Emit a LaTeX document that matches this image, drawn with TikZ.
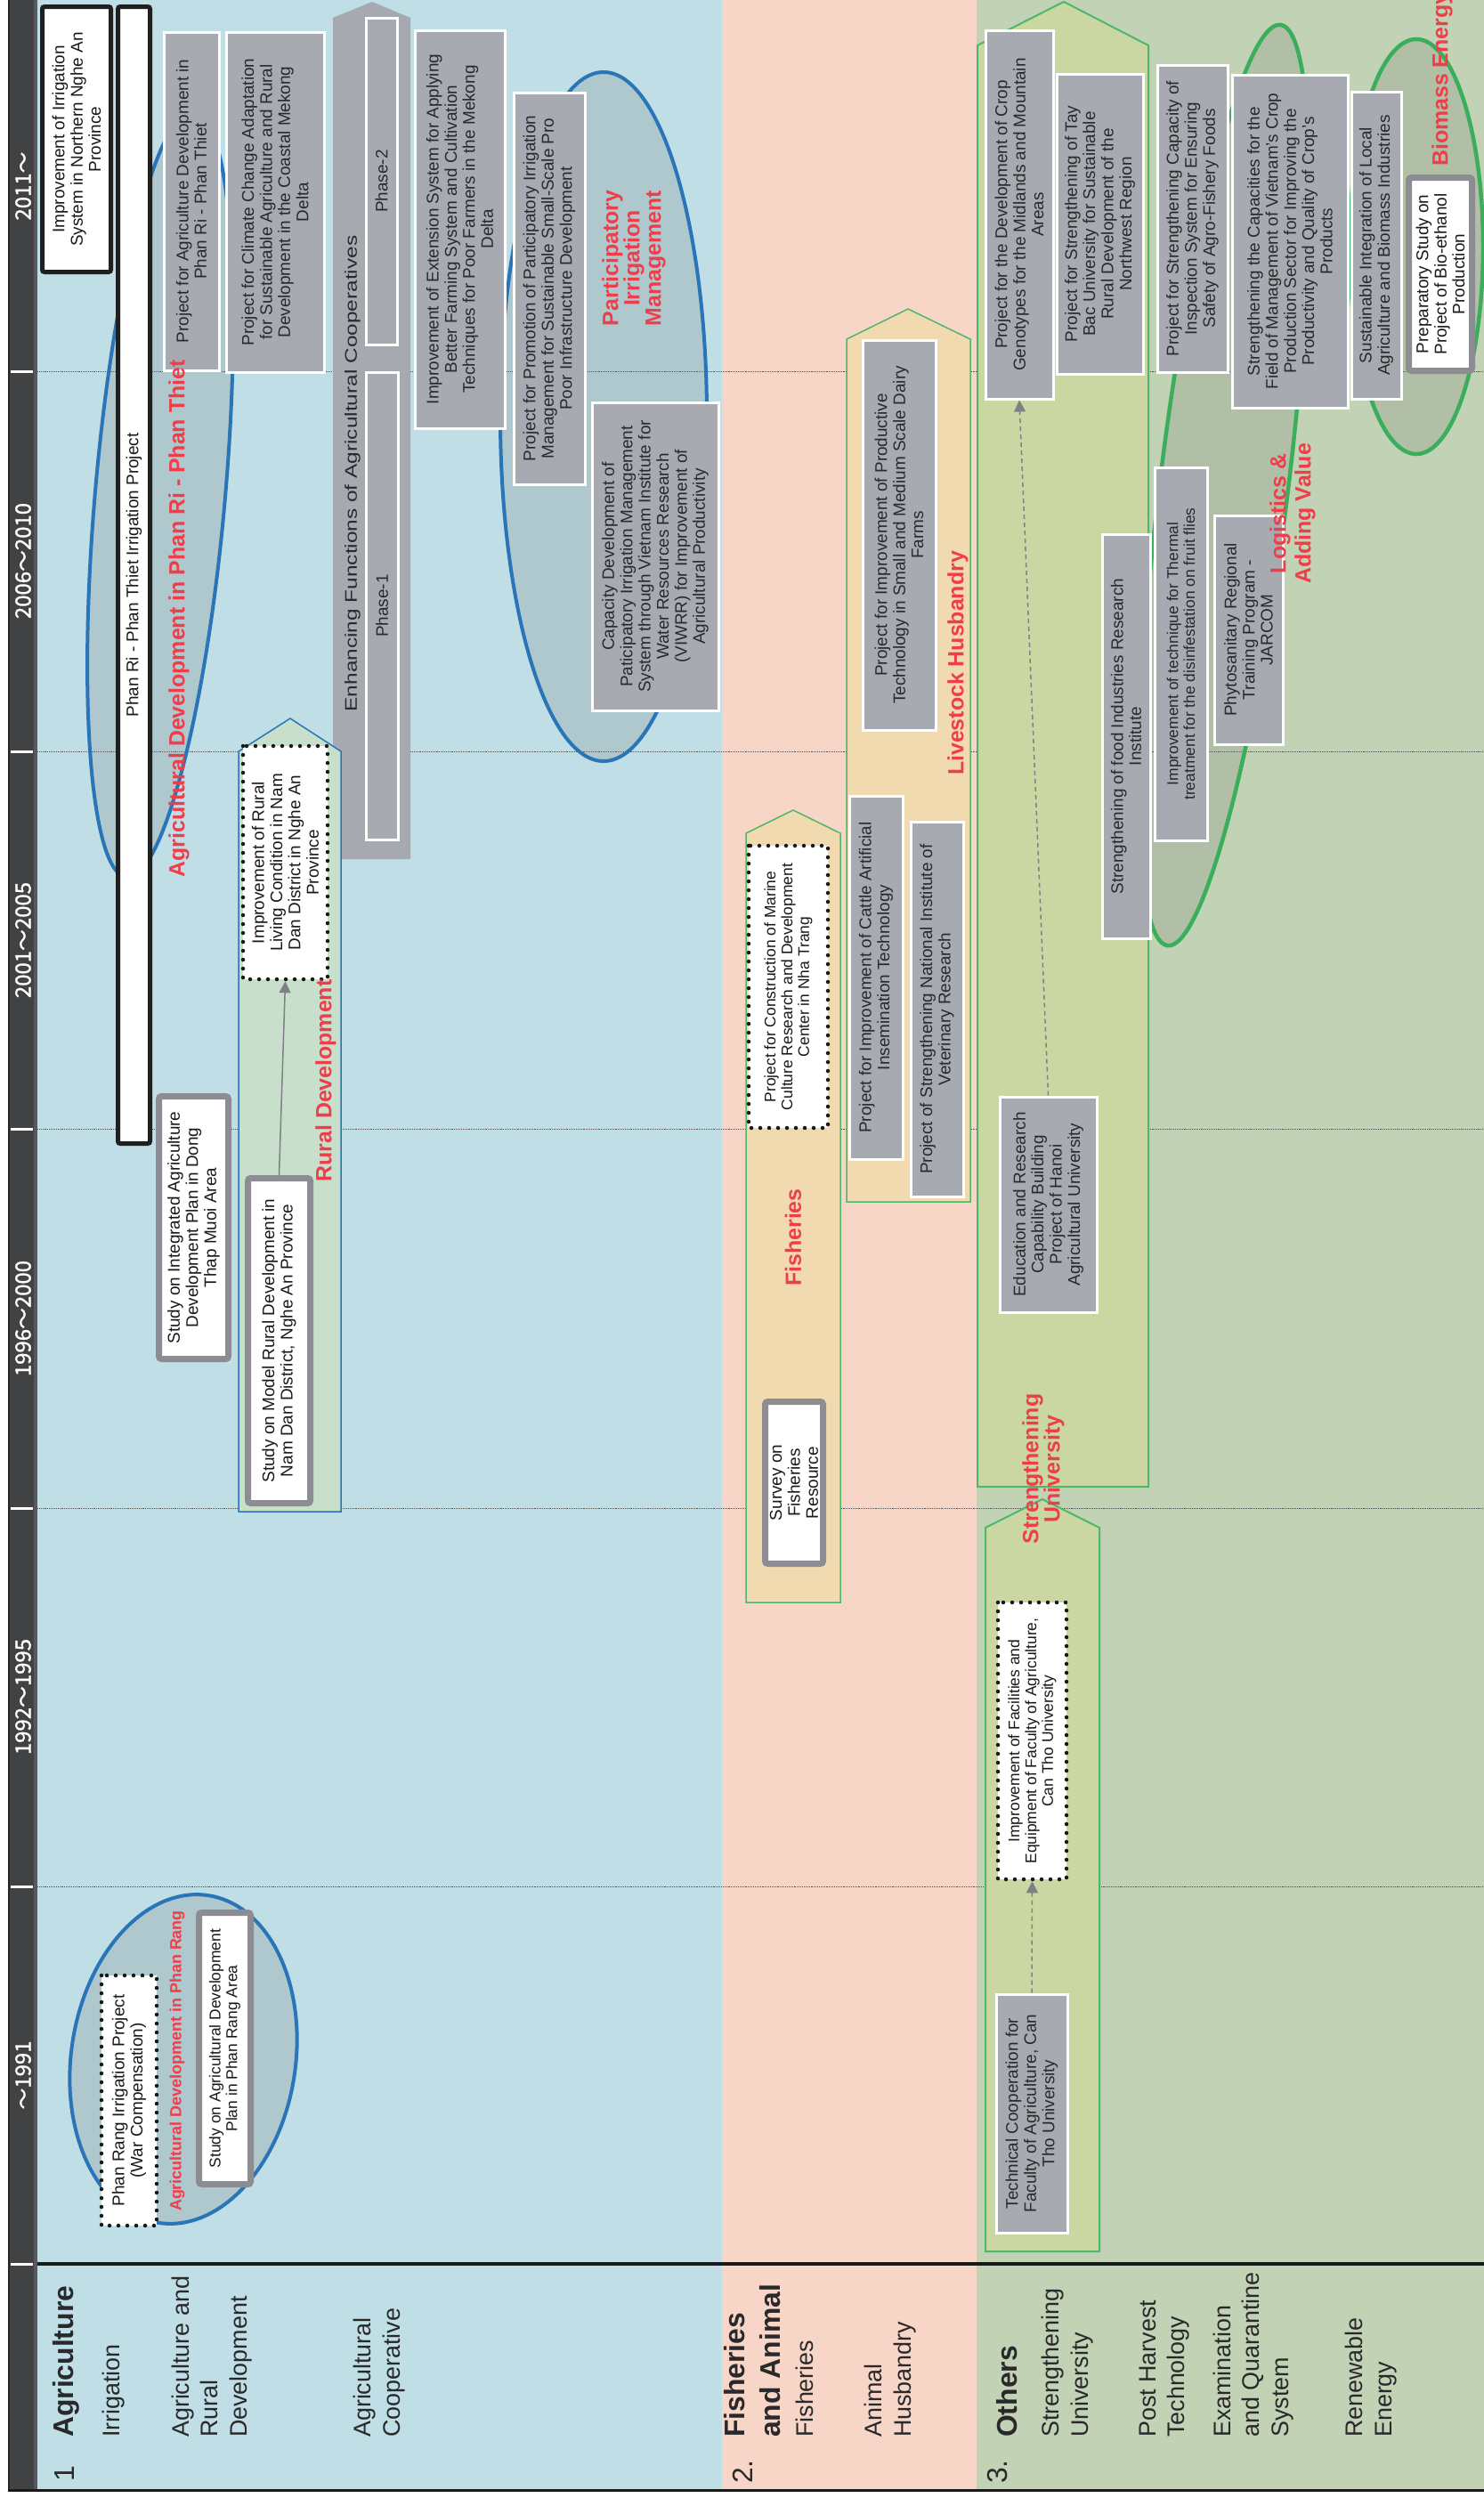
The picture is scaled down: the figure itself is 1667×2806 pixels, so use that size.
\documentclass[tikz,border=0pt]{standalone}
\usepackage{fontspec}
\usepackage{graphicx}
\setmainfont{Liberation Sans}
\newfontfamily\cjkfont[AutoFakeBold=1.2]{Noto Sans CJK JP}
\usetikzlibrary{arrows.meta}

\definecolor{bandblue}{HTML}{BFDEE5}
\definecolor{bandpeach}{HTML}{F7D6C7}
\definecolor{bandgreen}{HTML}{C1D2B5}
\definecolor{headdark}{HTML}{414244}
\definecolor{headmid}{HTML}{58595C}
\definecolor{boxgray}{HTML}{A8AAB1}
\definecolor{txtdark}{HTML}{29292B}
\definecolor{framegray}{HTML}{8C8D92}
\definecolor{labred}{HTML}{EF3E4A}
\definecolor{ellblue}{HTML}{2A74B8}
\definecolor{ellgreen}{HTML}{3BAE5C}
\definecolor{arrgreen}{HTML}{4DB76B}
\definecolor{ruralfill}{HTML}{C8E0CB}
\definecolor{fishfill}{HTML}{F2DAB0}
\definecolor{unifill}{HTML}{CBD7A3}
\definecolor{coopgray}{HTML}{A7A9B0}
\definecolor{linkgray}{HTML}{7F8085}
\definecolor{gridgray}{HTML}{505050}

\newcommand\fsA{\fontsize{19}{20.5}\selectfont}
\newcommand\fsB{\fontsize{17.5}{19}\selectfont}
\newcommand\fsR{\fontsize{25}{24}\selectfont\bfseries}
\newcommand\fsL{\fontsize{27}{33}\selectfont}
\newcommand\fsH{\fontsize{32}{40}\selectfont\bfseries}

% project box given by its left/top and right/bottom edges, text running upwards
\newcommand\pbox[7]{\node[#2,rotate=90,minimum width={(#6-#4)*1bp},minimum height={(#5-#3)*1bp}] (#1) at ({(#3+#5)/2},{(#4+#6)/2}) {#7};}

\begin{document}
\begin{tikzpicture}[x=1bp,y=-1bp,
  gbox/.style={draw=white, line width=3bp, fill=boxgray, text=txtdark, align=center, inner sep=1bp, font=\fsA},
  kbox/.style={draw=black!88, line width=5bp, rounded corners=2.5bp, fill=white, text=black!90, align=center, inner sep=1bp, font=\fsA},
  wbox/.style={draw=framegray, line width=7bp, rounded corners=3bp, fill=white, text=black!90, align=center, inner sep=1bp, font=\fsA},
  dbox/.style={draw=black!90, line width=4.5bp, dash pattern=on 0bp off 10bp, line cap=round, fill=white, text=black!90, align=center, inner sep=1bp, font=\fsA},
  redlab/.style={rotate=90, text=labred, font=\fsR, align=center, inner sep=0bp},
  collab/.style={rotate=90, anchor=west, text=txtdark, font=\fsL, align=left, inner sep=0bp},
  colhead/.style={rotate=90, anchor=west, text=txtdark, font=\fsH, align=left, inner sep=0bp},
  colnum/.style={rotate=90, anchor=west, text=txtdark, font=\fontsize{32}{40}\selectfont, inner sep=0bp},
  yearlab/.style={rotate=90, text=white, font=\cjkfont\bfseries\fontsize{24}{24}\selectfont, inner sep=0bp},
  gridline/.style={gridgray, densely dotted, line width=0.9bp},
  blueell/.style={draw=ellblue, line width=4bp, fill=black!55, fill opacity=0.2},
  greenell/.style={draw=ellgreen, line width=4.5bp, fill=black!55, fill opacity=0.2},
  linkarrow/.style={draw=linkgray, line width=1.5bp, -{Triangle[length=13bp,width=13bp]}},
  dashlink/.style={linkarrow, dash pattern=on 5bp off 4bp},
]
\useasboundingbox (0,0) rectangle (1667,2806);
\clip (0,0) rectangle (1667,2806);
\fill[white] (0,0) rectangle (1667,2806);

% sector bands
\fill[bandblue] (42,0) rectangle (811,2797);
\fill[bandpeach] (811,0) rectangle (1097,2797);
\fill[bandgreen] (1097,0) rectangle (1667,2797);

% period strip
\fill[headdark] (10,0) rectangle (37.5,2797);
\fill[headmid] (37.5,0) rectangle (42,2797);
\draw[black!85, line width=2bp] (10,0) -- (10,2797);

% period boundaries
\foreach \g in {417,844,1268,1694,2119}{
  \draw[gridline] (42,\g) -- (1667,\g);
  \draw[white, line width=3bp] (12,\g) -- (37,\g);
}
\draw[white, line width=3bp] (12,2543) -- (37,2543);
\draw[black!90, line width=3.5bp] (42,2543) -- (1667,2543);
\draw[black!90, line width=3bp] (9,2797) -- (1667,2797);

% period titles
\node[yearlab] (yr2011) at (26,209) {2011～};
\node[yearlab] (yr2006) at (26,630) {2006～2010};
\node[yearlab] (yr2001) at (26,1056) {2001～2005};
\node[yearlab] (yr1996) at (26,1481) {1996～2000};
\node[yearlab] (yr1992) at (26,1906) {1992～1995};
\node[yearlab] (yr1991) at (26,2331) {～1991};

% programme arrows
\fill[coopgray] (374,965) -- (374,20) -- (418,2) -- (461,20) -- (461,965) -- cycle;
\filldraw[fill=ruralfill, draw=ellblue, line width=1.5bp] (268,1698) -- (268,844) -- (326,807) -- (383,844) -- (383,1698) -- cycle;
\filldraw[fill=fishfill, draw=arrgreen, line width=1.5bp] (838,1800) -- (838,936) -- (891,910) -- (944,936) -- (944,1800) -- cycle;
\filldraw[fill=fishfill, draw=arrgreen, line width=1.5bp] (951,1350) -- (951,381) -- (1020,347) -- (1090,381) -- (1090,1350) -- cycle;
\filldraw[fill=unifill, draw=arrgreen, line width=2bp] (1098,1670) -- (1098,51) -- (1195,2) -- (1290,51) -- (1290,1670) -- cycle;
\filldraw[fill=unifill, draw=arrgreen, line width=2bp] (1107,2529) -- (1107,1716) -- (1171,1684) -- (1235,1716) -- (1235,2529) -- cycle;

% thematic groupings
\begin{scope}[shift={(180,555)},rotate=-5]
  \draw[blueell] (0,0) ellipse [x radius=73, y radius=432];
\end{scope}
\draw[blueell] (678,468) ellipse [x radius=116, y radius=387];
\begin{scope}[shift={(206,2313)},rotate=-8.6]
  \draw[blueell] (0,0) ellipse [x radius=126, y radius=186];
\end{scope}
\begin{scope}[shift={(1375,545)},rotate=-7]
  \draw[greenell] (0,0) ellipse [x radius=72, y radius=521];
\end{scope}
\draw[greenell] (1591,277) ellipse [x radius=75, y radius=233];

% agriculture
\pbox{nghean}{kbox}{47.5}{7.5}{124.5}{305.5}{Improvement of Irrigation\\System in Northern Nghe An\\Province}
\pbox{phanri}{kbox}{132.5}{7.5}{168.5}{1284.5}{Phan Ri - Phan Thiet Irrigation Project}
\pbox{phanriagri}{gbox}{184}{36}{246}{416}{Project for Agriculture Development in\\Phan Ri - Phan Thiet}
\pbox{climate}{gbox}{254}{36}{364}{418}{Project for Climate Change Adaptation\\for Sustainable Agriculture and Rural\\Development in the Coastal Mekong\\Delta}
\node[rotate=90, text=txtdark, font=\fsA, inner sep=0bp] (coop) at (396,532) {\scalebox{1.29}[1]{Enhancing Functions of Agricultural Cooperatives}};
\pbox{phase2}{gbox}{411}{20}{446}{387}{Phase-2}
\pbox{phase1}{gbox}{411}{418}{447}{943}{Phase-1}
\pbox{extension}{gbox}{466}{34}{567}{481}{Improvement of Extension System for Applying\\Better Farming System and Cultivation\\Techniques for Poor Farmers in the Mekong\\Delta}
\pbox{promotion}{gbox}{577}{104}{657}{544}{Project for Promotion of Participatory Irrigation\\Management  for Sustainable Small-Scale Pro\\Poor Infrastructure Development}
\pbox{viwrr}{gbox}{665}{452}{807}{798}{Capacity Development of\\Paticipatory Irrigation Management\\System through Vietnam Institute for\\Water Resources Research\\(VIWRR) for Improvement of\\Agricultural Productivity}
\pbox{namdanimp}{dbox}{273}{838}{368}{1100}{Improvement of Rural\\Living Condition in Nam\\Dan District in Nghe  An\\Province}
\pbox{namdanstudy}{wbox}{278.5}{1323.5}{348.5}{1688.5}{Study on Model Rural Development in\\Nam Dan District, Nghe An Province}
\pbox{dongthap}{wbox}{178.5}{1231.5}{256.5}{1526.5}{Study on Integrated  Agriculture\\Development Plan in Dong\\Thap Muoi Area}
\pbox{phanrangirr}{dbox}{114}{2219}{176}{2500}{Phan Rang Irrigation  Project\\(War Compensation)}
\pbox{phanrangstudy}{wbox,font=\fsB}{223.5}{2148.5}{281.5}{2453.5}{Study on Agricultural  Development\\Plan in Phan Rang  Area}

% fisheries and animal husbandry
\pbox{marine}{dbox,font=\fsB}{841}{950}{930}{1267}{Project for Construction of Marine\\Culture Research and Development\\Center in Nha Trang}
\pbox{survey}{wbox}{859.5}{1574.5}{924.5}{1756.5}{Survey on\\Fisheries\\Resource}
\pbox{dairy}{gbox}{969}{382}{1051}{820}{Project for Improvement of Productive\\Technology in Small and Medium Scale Dairy\\Farms}
\pbox{cattle}{gbox}{954}{894}{1014}{1302}{Project for Improvement of Cattle Artificial\\Insemination Technology}
\pbox{vet}{gbox}{1023}{923}{1082}{1344}{Project of Strengthening National Institute of\\Veterinary Research}

% others
\pbox{crop}{gbox}{1107}{34}{1183}{448}{Project for the Development of Crop\\Genotypes  for the Midlands and Mountain\\Areas}
\pbox{taybac}{gbox}{1187}{83}{1284}{420}{Project for Strengthening of Tay\\Bac University  for Sustainable\\Rural Development of the\\Northwest Region}
\pbox{inspection}{gbox}{1300}{73}{1379}{418}{Project for Strengthening Capacity of\\Inspection System for Ensuring\\Safety of Agro-Fishery Foods}
\pbox{cropmgmt}{gbox}{1384}{84}{1514}{458}{Strengthening  the Capacities for  the\\Field of Management of Vietnam's Crop\\Production Sector for Improving the\\Productivity and Quality of Crop's\\Products}
\pbox{biomassint}{gbox}{1518}{103}{1574}{448}{Sustainable  Integration of Local\\Agriculture and Biomass Industries}
\pbox{bioethanol}{wbox}{1582.5}{199.5}{1653.5}{416.5}{Preparatory Study on\\Project of Bio-ethanol\\Production}
\pbox{foodinst}{gbox}{1238}{600}{1292}{1054}{Strengthening  of food Industries  Research\\Institute}
\pbox{thermal}{gbox,font=\fsB}{1297}{525}{1356}{944}{Improvement of technique for Thermal\\treatment for the disinfestation on fruit flies}
\pbox{jarcom}{gbox}{1364}{579}{1441}{836}{Phytosanitary Regional\\Training Program -\\JARCOM}
\pbox{hanoi}{gbox}{1123}{1232}{1232}{1474}{Education and Research\\Capability Building\\Project of Hanoi\\Agricultural University}
\pbox{facilities}{dbox,font=\fsB}{1121}{1800}{1198}{2111}{Improvement  of Facilities and\\Equipment of Faculty of Agriculture,\\Can Tho University}
\pbox{cantho}{gbox}{1119}{2240}{1199}{2508}{Technical Cooperation for\\Faculty of Agriculture,  Can\\Tho University}

% follow-up links
\draw[linkarrow] (namdanstudy.east) -- (namdanimp.west);
\draw[dashlink] (cantho.east) -- (facilities.west);
\draw[dashlink] (hanoi.east) -- (crop.west);

% theme titles
\node[redlab] (t-phanri) at (201,695) {Agricultural Development in Phan Ri - Phan Thiet};
\node[redlab] (t-pim) at (712,290) {Participatory\\Irrigation\\Management};
\node[redlab] (t-rural) at (366,1214) {Rural Development};
\node[redlab, font=\fontsize{18}{18}\selectfont\bfseries] (t-phanrang) at (199,2315) {Agricultural Development in Phan Rang};
\node[redlab] (t-fish) at (891,1390) {Fisheries};
\node[redlab] (t-live) at (1076,745) {Livestock Husbandry};
\node[redlab] (t-univ) at (1172,1650) {Strengthening\\University};
\node[redlab, font=\fontsize{25}{28}\selectfont\bfseries] (t-logi) at (1452,577) {Logistics \&\\Adding Value};
\node[redlab, anchor=west] (t-bio) at (1620,187) {Biomass Energy};

% sector and sub-sector names
\node[colnum] (n1) at (73,2788) {1};
\node[colhead] (h-agri) at (74,2738) {Agriculture};
\node[collab] (s-irr) at (128,2738) {Irrigation};
\node[collab] (s-ard) at (238,2738) {Agriculture and\\Rural\\Development};
\node[collab] (s-coop) at (426,2738) {Agricultural\\Cooperative};
\node[colnum] (n2) at (834,2790) {2.};
\node[colhead] (h-fish) at (845,2738) {Fisheries\\and Animal};
\node[collab] (s-fish) at (904,2738) {Fisheries};
\node[collab] (s-anim) at (1000,2738) {Animal\\Husbandry};
\node[colnum] (n3) at (1121,2790) {3.};
\node[colhead] (h-oth) at (1131,2738) {Others};
\node[collab] (s-univ) at (1199,2738) {Strengthening\\University};
\node[collab] (s-post) at (1308,2738) {Post Harvest\\Technology};
\node[collab] (s-exam) at (1408,2738) {Examination\\and Quarantine\\System};
\node[collab] (s-ren) at (1540,2738) {Renewable\\Energy};
\end{tikzpicture}
\end{document}
